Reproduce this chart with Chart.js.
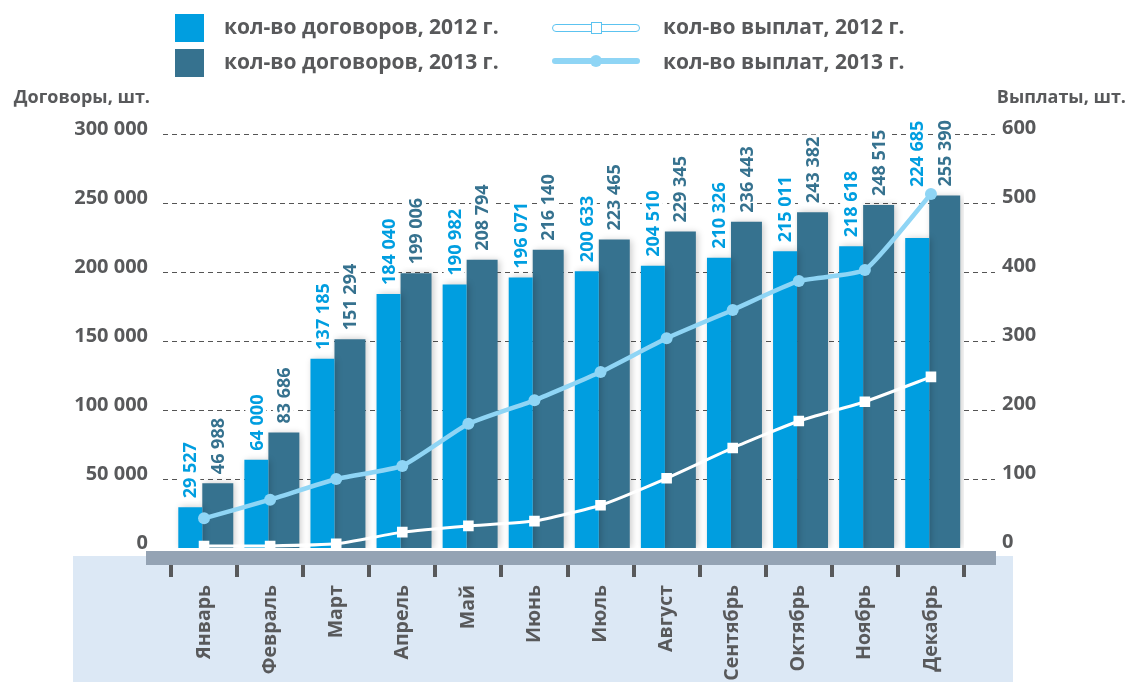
<!DOCTYPE html>
<html lang="ru">
<head>
<meta charset="utf-8">
<title>Договоры и выплаты</title>
<script src="https://cdn.jsdelivr.net/npm/chart.js@4.4.1/dist/chart.umd.min.js"></script>
<style>
  body { margin: 0; background: #fff; font-family: 'Open Sans', sans-serif; }
  #wrap { position: relative; width: 1128px; height: 682px; overflow: hidden; }
  #chart { position: absolute; left: 0; top: 0; }
  .txt { position: absolute; font-weight: 700; color: #58595b; white-space: nowrap; }
  .legend { font-size: 21px; line-height: 24px; }
  .axisTitle { font-size: 18px; line-height: 22px; }
  .sq { position: absolute; width: 29px; height: 28px; }
  .ln { position: absolute; box-sizing: border-box; }
</style>
</head>
<body>
<div id="wrap">
  <canvas id="chart" width="1128" height="682"></canvas>

  <!-- legend -->
  <div class="sq" style="left:175px; top:14px; background:#009ee0;"></div>
  <div class="txt legend" style="left:224px; top:14px;">кол-во договоров, 2012 г.</div>
  <div class="sq" style="left:175px; top:49px; background:#36728f;"></div>
  <div class="txt legend" style="left:224px; top:49px;">кол-во договоров, 2013 г.</div>

  <div class="ln" style="left:552px; top:24px; width:88px; height:8px; border:1.5px solid #5cc3f0; border-radius:4px; background:#fff;"></div>
  <div class="ln" style="left:591px; top:22px; width:11px; height:12px; border:1.5px solid #5cc3f0; background:#fff;"></div>
  <div class="txt legend" style="left:663px; top:14px;">кол-во выплат, 2012 г.</div>
  <div class="ln" style="left:552px; top:58px; width:88px; height:6px; border-radius:3px; background:#8fd5f5;"></div>
  <div class="ln" style="left:590px; top:55px; width:12px; height:12px; border-radius:6px; background:#8fd5f5;"></div>
  <div class="txt legend" style="left:663px; top:49px;">кол-во выплат, 2013 г.</div>

  <!-- axis titles -->
  <div class="txt axisTitle" style="left:0; width:150px; text-align:right; top:85px;">Договоры, шт.</div>
  <div class="txt axisTitle" style="right:2px; top:85px;">Выплаты, шт.</div>
</div>

<script>
// data
const months = ["Январь", "Февраль", "Март", "Апрель", "Май", "Июнь", "Июль", "Август", "Сентябрь", "Октябрь", "Ноябрь", "Декабрь"];
const contracts2012 = [29527, 64000, 137185, 184040, 190982, 196071, 200633, 204510, 210326, 215011, 218618, 224685];
const contracts2013 = [46988, 83686, 151294, 199006, 208794, 216140, 223465, 229345, 236443, 243382, 248515, 255390];
const payments2012 = [3, 3, 6, 23, 32, 39, 62, 101, 145, 184, 212, 248];
const payments2013 = [43, 70, 100, 119, 180, 214, 255, 304, 345, 387, 403, 513];
const contractTicks = [0, 50000, 100000, 150000, 200000, 250000, 300000];
const paymentTicks = [0, 100, 200, 300, 400, 500, 600];

const TEXT = "#58595b";
const BLUE12 = "#009ee0";
const BLUE13 = "#36728f";
const LINE13 = "#8fd5f5";

Chart.defaults.font.family = "'Open Sans', sans-serif";

// thousands with a space: 137185 -> "137 185"
function fmt(v) {
  return String(v).replace(/\B(?=(\d{3})+(?!\d))/g, " ");
}

// background panel under the axis, grey band, tick marks, dashed grid
const backdrop = {
  id: "backdrop",
  beforeDraw(chart) {
    const { ctx, chartArea } = chart;
    const bottom = chartArea.bottom;
    ctx.save();
    ctx.fillStyle = "#dce8f5";
    ctx.fillRect(73, bottom + 8, 940, 682 - bottom - 8);
    ctx.restore();
  },
  beforeDatasetsDraw(chart) {
    const { ctx, chartArea, scales } = chart;
    const x = scales.x, y = scales.y;
    const bottom = chartArea.bottom;
    ctx.save();

    ctx.fillStyle = "#94a3b4";
    ctx.fillRect(chartArea.left - 25, bottom + 3, chartArea.right - chartArea.left + 57, 14);

    const step = x.getPixelForValue(1) - x.getPixelForValue(0);
    ctx.fillStyle = TEXT;
    for (let i = 0; i <= months.length; i++) {
      const px = x.getPixelForValue(0) - step / 2 + i * step;
      ctx.fillRect(Math.round(px) - 2, bottom + 17, 4, 12);
    }

    ctx.strokeStyle = "#555";
    ctx.lineWidth = 1;
    ctx.setLineDash([5, 4]);
    contractTicks.forEach(v => {
      if (v === 0) return;
      const py = Math.round(y.getPixelForValue(v)) + 0.5;
      ctx.beginPath();
      ctx.moveTo(chartArea.left - 8, py);
      ctx.lineTo(chartArea.right + 31, py);
      ctx.stroke();
    });
    ctx.restore();
  }
};

// soft shadow under the bars
const barShadow = {
  id: "barShadow",
  beforeDatasetDraw(chart, args) {
    if (args.meta.type !== "bar") return;
    const ctx = chart.ctx;
    ctx.save();
    ctx.shadowColor = "rgba(0,0,0,0.22)";
    ctx.shadowBlur = 7;
    ctx.shadowOffsetX = 2;
  },
  afterDatasetDraw(chart, args) {
    if (args.meta.type !== "bar") return;
    chart.ctx.restore();
  }
};

// rotated value labels above each bar
const barValues = {
  id: "barValues",
  afterDatasetsDraw(chart) {
    const ctx = chart.ctx;
    const linePoints = chart.getDatasetMeta(0).data;
    ctx.save();
    ctx.font = "700 18px 'Open Sans', sans-serif";
    ctx.textAlign = "left";
    ctx.textBaseline = "middle";
    [2, 3].forEach(di => {
      const ds = chart.data.datasets[di];
      chart.getDatasetMeta(di).data.forEach((bar, i) => {
        let base = bar.y - 9;
        const p = linePoints[i];
        if (p && p.y < bar.y && Math.abs(p.x - bar.x) < 22) base = Math.min(base, p.y - 7);
        const label = fmt(ds.data[i]);
        const w = ctx.measureText(label).width;
        ctx.save();
        ctx.translate(bar.x, base);
        ctx.rotate(-Math.PI / 2);
        ctx.fillStyle = "#fff";
        ctx.fillRect(-2, -11, w + 4, 21);
        ctx.fillStyle = ds.backgroundColor;
        ctx.fillText(label, 0, 1);
        ctx.restore();
      });
    });
    ctx.restore();
  }
};

new Chart(document.getElementById("chart"), {
  data: {
    labels: months,
    datasets: [
      {
        type: "line",
        label: "кол-во выплат, 2013 г.",
        data: payments2013,
        yAxisID: "y2",
        borderColor: LINE13,
        backgroundColor: LINE13,
        borderWidth: 4.5,
        tension: 0.15,
        pointRadius: 6,
        pointBorderWidth: 0,
        pointBackgroundColor: LINE13
      },
      {
        type: "line",
        label: "кол-во выплат, 2012 г.",
        data: payments2012,
        yAxisID: "y2",
        borderColor: "#ffffff",
        backgroundColor: "#ffffff",
        borderWidth: 3,
        tension: 0.15,
        pointStyle: "rect",
        pointRadius: 7.5,
        pointBorderWidth: 0,
        pointBackgroundColor: "#ffffff"
      },
      {
        type: "bar",
        label: "кол-во договоров, 2012 г.",
        data: contracts2012,
        yAxisID: "y",
        backgroundColor: BLUE12,
        borderWidth: 0,
        categoryPercentage: 0.832,
        barPercentage: 0.873
      },
      {
        type: "bar",
        label: "кол-во договоров, 2013 г.",
        data: contracts2013,
        yAxisID: "y",
        backgroundColor: BLUE13,
        borderWidth: 0,
        categoryPercentage: 0.832,
        barPercentage: 1.127
      }
    ]
  },
  options: {
    responsive: false,
    devicePixelRatio: 1,
    animation: false,
    layout: { padding: { top: 134, left: 0, right: 0, bottom: 0 } },
    plugins: {
      legend: { display: false },
      tooltip: { enabled: false }
    },
    scales: {
      x: {
        grid: { display: false, drawTicks: false },
        border: { display: false },
        ticks: {
          autoSkip: false,
          minRotation: 90,
          maxRotation: 90,
          padding: 37,
          color: TEXT,
          font: { size: 19.5, weight: "700" }
        },
        afterFit(s) { s.height = 134; }
      },
      y: {
        position: "left",
        min: 0,
        max: 300000,
        grid: { display: false, drawTicks: false },
        border: { display: false },
        afterBuildTicks(s) { s.ticks = contractTicks.map(v => ({ value: v })); },
        ticks: {
          padding: 23,
          labelOffset: -5,
          color: TEXT,
          font: { size: 20, weight: "700" },
          callback: v => fmt(v)
        },
        afterFit(s) { s.width = 171; }
      },
      y2: {
        position: "right",
        min: 0,
        max: 600,
        grid: { display: false, drawTicks: false },
        border: { display: false },
        afterBuildTicks(s) { s.ticks = paymentTicks.map(v => ({ value: v })); },
        ticks: {
          padding: 38,
          labelOffset: -6,
          color: TEXT,
          font: { size: 20, weight: "700" },
          callback: v => String(v)
        },
        afterFit(s) { s.width = 164; }
      }
    }
  },
  plugins: [backdrop, barShadow, barValues]
});
</script>
</body>
</html>
